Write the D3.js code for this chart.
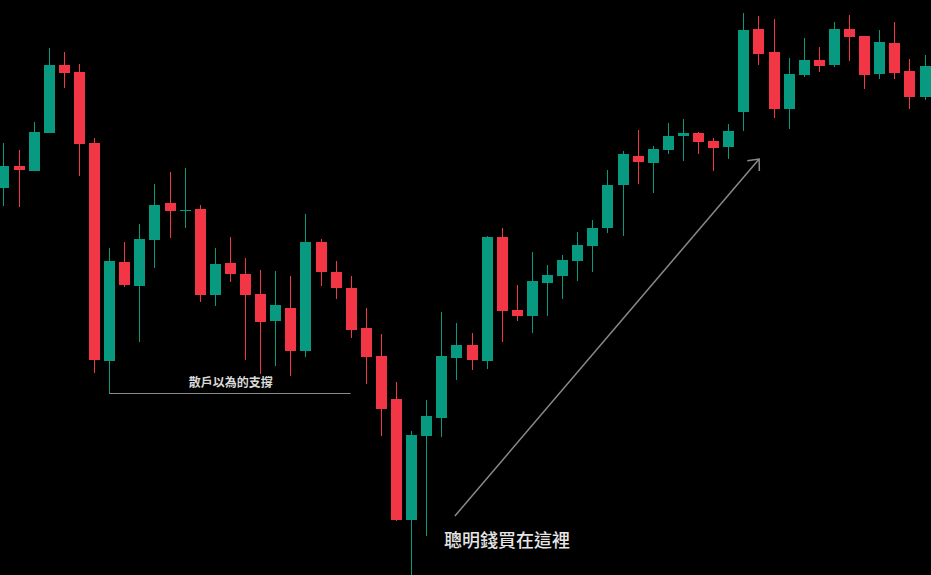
<!DOCTYPE html>
<html>
<head>
<meta charset="utf-8">
<script src="https://cdn.jsdelivr.net/npm/d3@7"></script>
<style>
  html, body { margin: 0; padding: 0; background: #000; overflow: hidden; }
  svg { display: block; }
</style>
</head>
<body>
<div id="chart"></div>
<script>
// candle data, one entry per bar (open / high / low / close)
const opens = [41.2, 43.4, 42.9, 46.7, 53.5, 52.8, 45.7, 23.9, 33.8, 31.4,
  36.0, 39.7, 38.9, 39.1, 30.5, 33.7, 32.6, 30.6, 27.9, 29.2,
  24.9, 35.8, 32.8, 31.2, 27.2, 24.4, 20.1, 8.0, 16.4, 18.2,
  24.2, 25.5, 23.9, 36.3, 29.0, 28.4, 31.7, 32.4, 33.9, 35.4,
  37.2, 41.5, 44.4, 43.7, 45.0, 46.4, 46.7, 45.9, 45.3, 48.8,
  57.1, 54.8, 49.1, 52.5, 54.0, 53.5, 57.1, 56.4, 52.6, 55.7,
  52.9, 50.3];
const highs = [45.7, 45.0, 47.8, 55.2, 54.8, 53.6, 46.2, 35.2, 35.8, 37.6,
  41.6, 42.8, 43.2, 39.5, 35.2, 36.3, 34.2, 33.0, 32.9, 32.4,
  38.6, 36.1, 33.9, 32.4, 29.2, 26.6, 21.8, 16.9, 20.0, 28.8,
  27.7, 26.7, 36.4, 37.2, 31.5, 34.8, 33.5, 34.5, 36.8, 38.0,
  43.0, 44.9, 47.0, 45.4, 47.7, 48.1, 46.8, 46.2, 47.6, 58.7,
  58.4, 58.1, 54.2, 56.2, 55.3, 57.8, 58.5, 56.4, 57.0, 57.8,
  54.1, 54.5];
const lows = [39.4, 39.3, 42.9, 46.7, 51.2, 42.4, 22.7, 20.7, 31.3, 25.8,
  33.2, 36.2, 37.2, 29.8, 29.4, 31.8, 24.0, 22.6, 23.4, 22.4,
  24.3, 31.4, 30.1, 26.2, 21.6, 16.4, 7.9, 2.2, 6.4, 16.3,
  22.0, 23.0, 23.1, 25.8, 27.9, 26.7, 28.4, 30.1, 31.9, 32.8,
  36.7, 36.4, 41.6, 40.7, 44.6, 43.9, 44.6, 42.9, 44.1, 46.9,
  53.5, 48.2, 47.1, 52.3, 52.8, 53.3, 53.9, 51.1, 52.1, 52.1,
  49.1, 50.0];
const closes = [43.4, 43.0, 46.8, 53.5, 52.7, 45.6, 24.0, 33.9, 31.5, 36.1,
  39.5, 38.9, 39.0, 30.5, 33.6, 32.6, 30.5, 27.8, 29.5, 24.9,
  35.8, 32.8, 31.2, 27.0, 24.3, 19.1, 8.0, 16.5, 18.4, 24.4,
  25.5, 24.0, 36.3, 28.9, 28.4, 31.9, 32.5, 34.0, 35.5, 37.2,
  41.5, 44.6, 43.8, 45.1, 46.4, 46.7, 45.8, 45.2, 46.9, 57.0,
  54.6, 49.1, 52.6, 54.0, 53.4, 57.1, 56.3, 52.5, 55.8, 52.7,
  50.3, 53.4];

// annotations: support line (bar index / price), arrow, labels
const supportLine = { from: 7, to: 23, price: 20.7 };
const supportLabel = { text: '散戶以為的支撐', at: 15.05, price: 21.3 };
const arrowLine = { from: [29.9, 8.4], to: [50.05, 44.1] };
const smartLabel = { text: '聰明錢買在這裡', at: 33.35, price: 5.3 };

const candles = opens.map((o, i) => ({
  i: i, open: o, high: highs[i], low: lows[i], close: closes[i]
}));

const width = 931, height = 575;
const upColor = '#089981', downColor = '#f23645';
const bodyWidth = 11;

const svg = d3
  .select('#chart')
  .append('svg')
  .attr('width', width)
  .attr('height', height)
  .style('background', '#000');

// x: bar index -> pixel centre, y: price -> pixel
const x = d3.scaleLinear().domain([0, candles.length - 1]).range([3.4, 924.5]);
const y = d3.scaleLinear().domain([0, 60]).range([600, 0]);

const bars = svg
  .append('g')
  .selectAll('g')
  .data(candles)
  .enter()
  .append('g')
  .attr('fill', (d) => (d.close >= d.open ? upColor : downColor))
  .attr('stroke', (d) => (d.close >= d.open ? upColor : downColor));

// wicks
bars
  .append('line')
  .attr('x1', (d) => Math.round(x(d.i)) + 0.5)
  .attr('x2', (d) => Math.round(x(d.i)) + 0.5)
  .attr('y1', (d) => y(d.high))
  .attr('y2', (d) => y(d.low))
  .attr('stroke-width', 1);

// bodies
bars
  .append('rect')
  .attr('stroke', 'none')
  .attr('x', (d) => Math.round(x(d.i)) + 0.5 - bodyWidth / 2)
  .attr('width', bodyWidth)
  .attr('y', (d) => y(Math.max(d.open, d.close)))
  .attr('height', (d) => Math.max(1, Math.abs(y(d.open) - y(d.close))));

// support line
svg
  .append('line')
  .attr('x1', x(supportLine.from))
  .attr('x2', x(supportLine.to))
  .attr('y1', Math.round(y(supportLine.price)) + 0.5)
  .attr('y2', Math.round(y(supportLine.price)) + 0.5)
  .attr('stroke', '#8a8a8a')
  .attr('stroke-width', 1);

svg
  .append('text')
  .attr('x', x(supportLabel.at))
  .attr('y', y(supportLabel.price))
  .attr('text-anchor', 'middle')
  .style('font-family', '"Noto Sans CJK TC", "Noto Sans CJK SC", sans-serif')
  .style('font-size', '12px')
  .style('font-weight', 'bold')
  .style('fill', '#d9d9d9')
  .text(supportLabel.text);

// arrow
const ax1 = x(arrowLine.from[0]), ay1 = y(arrowLine.from[1]);
const ax2 = x(arrowLine.to[0]), ay2 = y(arrowLine.to[1]);
const back = Math.atan2(ay1 - ay2, ax1 - ax2);
const headLen = 12;
const arrow = svg
  .append('g')
  .attr('stroke', '#8a8a8a')
  .attr('stroke-width', 1.5)
  .attr('fill', 'none');
arrow
  .append('line')
  .attr('x1', ax1)
  .attr('y1', ay1)
  .attr('x2', ax2)
  .attr('y2', ay2);
arrow
  .append('path')
  .attr(
    'd',
    d3.line()([
      [ax2 + headLen * Math.cos(back + 0.72), ay2 + headLen * Math.sin(back + 0.72)],
      [ax2, ay2],
      [ax2 + headLen * Math.cos(back - 0.72), ay2 + headLen * Math.sin(back - 0.72)],
    ])
  );

svg
  .append('text')
  .attr('x', x(smartLabel.at))
  .attr('y', y(smartLabel.price))
  .attr('text-anchor', 'middle')
  .style('font-family', '"Noto Sans CJK TC", "Noto Sans CJK SC", sans-serif')
  .style('font-size', '18px')
  .style('font-weight', '500')
  .style('fill', '#e6e6e6')
  .text(smartLabel.text);
</script>
</body>
</html>
